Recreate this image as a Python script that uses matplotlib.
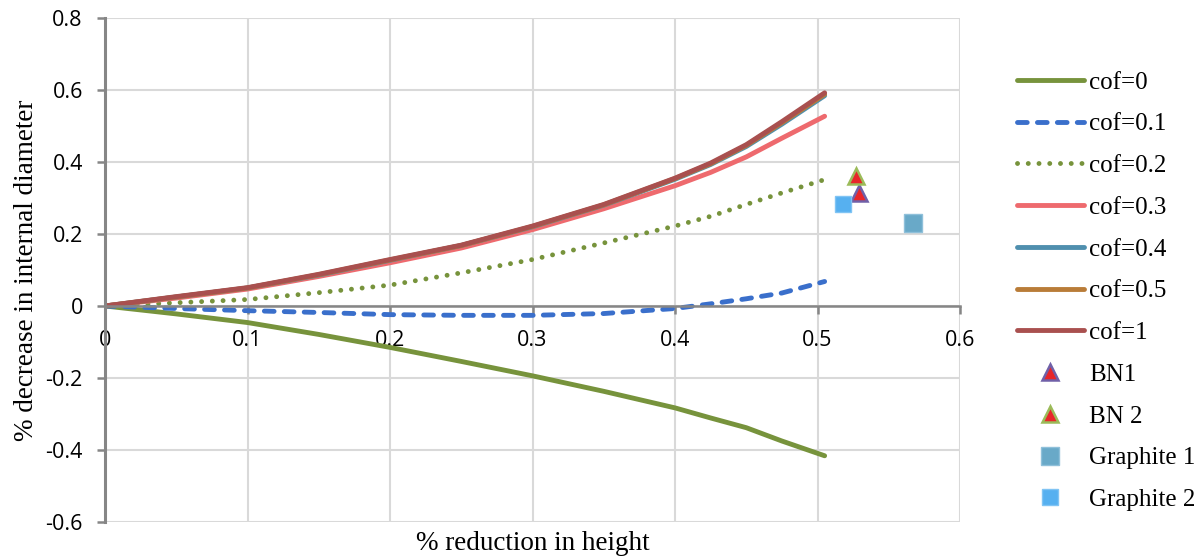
import matplotlib.pyplot as plt

# x positions (% reduction in height)
x_pts = [0.0, 0.05, 0.1, 0.15, 0.2, 0.25, 0.3, 0.35, 0.4, 0.425, 0.45, 0.475, 0.505]

# % decrease in internal diameter for each friction coefficient
cof_0 = [0.0, -0.022, -0.046, -0.079, -0.115, -0.154, -0.194, -0.237, -0.283, -0.311, -0.338, -0.375, -0.416]
cof_01 = [0.0, -0.007, -0.013, -0.018, -0.024, -0.026, -0.026, -0.021, -0.007, 0.006, 0.020, 0.036, 0.068]
cof_02 = [0.0, 0.009, 0.018, 0.037, 0.058, 0.092, 0.129, 0.175, 0.222, 0.249, 0.282, 0.314, 0.351]
cof_03 = [0.0, 0.022, 0.047, 0.082, 0.120, 0.161, 0.212, 0.270, 0.334, 0.371, 0.414, 0.466, 0.527]
cof_04 = [0.0, 0.025, 0.050, 0.086, 0.127, 0.168, 0.220, 0.280, 0.352, 0.393, 0.443, 0.505, 0.584]
cof_05 = [0.0, 0.025, 0.050, 0.087, 0.128, 0.168, 0.221, 0.281, 0.354, 0.395, 0.446, 0.509, 0.588]
cof_1 = [0.0, 0.026, 0.051, 0.088, 0.129, 0.169, 0.222, 0.282, 0.355, 0.397, 0.448, 0.512, 0.592]

# experimental points
bn1 = (0.529, 0.315)
bn2 = (0.527, 0.360)
graphite1 = (0.567, 0.230)
graphite2 = (0.518, 0.284)

x_ticks = [0, 0.1, 0.2, 0.3, 0.4, 0.5, 0.6]
x_tick_labels = ['0', '0.1', '0.2', '0.3', '0.4', '0.5', '0.6']
y_ticks = [-0.6, -0.4, -0.2, 0, 0.2, 0.4, 0.6, 0.8]
y_tick_labels = ['-0.6', '-0.4', '-0.2', '0', '0.2', '0.4', '0.6', '0.8']

fig = plt.figure(figsize=(12, 5.57), dpi=100)
ax = fig.add_axes([0.0875, 0.0628, 0.7125, 0.905])

lw = 3.5
common = dict(lw=lw, solid_capstyle='round', solid_joinstyle='round')
ax.plot(x_pts, cof_0, color='#77933C', label='cof=0', **common)
ax.plot(x_pts, cof_01, color='#3A6FCB', dashes=(2.0, 2.1), dash_capstyle='round', label='cof=0.1', **common)
ax.plot(x_pts, cof_02, color='#77933C', dashes=(0.01, 2.2), dash_capstyle='round', label='cof=0.2', **common)
ax.plot(x_pts, cof_03, color='#EE6A6E', label='cof=0.3', **common)
ax.plot(x_pts, cof_04, color='#4F8FAE', label='cof=0.4', **common)
ax.plot(x_pts, cof_05, color='#B97C38', label='cof=0.5', **common)
ax.plot(x_pts, cof_1, color='#A9504F', label='cof=1', **common)

ax.plot([bn1[0]], [bn1[1]], ls='none', marker='^', ms=12, mfc='#E8262A', mec='#7060A8', mew=1.8, label='BN1')
ax.plot([bn2[0]], [bn2[1]], ls='none', marker='^', ms=12, mfc='#E8262A', mec='#9BBB59', mew=1.8, label='BN 2')
ax.plot([graphite1[0]], [graphite1[1]], ls='none', marker='s', ms=13, mfc='#69A9C8', mec='#8FC0DA', mew=1, label='Graphite 1')
ax.plot([graphite2[0]], [graphite2[1]], ls='none', marker='s', ms=12, mfc='#56B0F0', mec='#80C4F4', mew=1, label='Graphite 2')

ax.set_xlim(0, 0.6)
ax.set_ylim(-0.6, 0.8)
ax.set_xticks(x_ticks)
ax.set_xticklabels(x_tick_labels)
ax.set_yticks(y_ticks)
ax.set_yticklabels(y_tick_labels)

ax.grid(True, color='#D9D9D9', lw=1.5)
ax.set_axisbelow(True)

# axis spines: left at x=0, horizontal axis crossing at y=0
ax.spines['bottom'].set_position(('data', 0))
ax.spines['bottom'].set_color('#868686')
ax.spines['bottom'].set_linewidth(1.8)
ax.spines['left'].set_color('#868686')
ax.spines['left'].set_linewidth(2.2)
ax.spines['top'].set_visible(False)
ax.spines['right'].set_visible(False)

ax.tick_params(axis='both', colors='#868686', width=1.8, length=6, direction='out',
               labelcolor='black', labelsize=15.5)
ax.tick_params(axis='x', pad=11)
ax.tick_params(axis='y', pad=10)
for lab in ax.get_xticklabels() + ax.get_yticklabels():
    lab.set_family('Open Sans')

ax.set_xlabel('% reduction in height', family='Liberation Serif', fontsize=19.5)
ax.set_ylabel('% decrease in internal diameter', family='Liberation Serif', fontsize=19.5)
ax.xaxis.set_label_coords(0.5, -0.017)
ax.yaxis.set_label_coords(-0.077, 0.5)

leg = ax.legend(loc='center left', bbox_to_anchor=(1.04, 0.458), frameon=False,
                prop={'family': 'Liberation Serif', 'size': 18},
                handlelength=2.7, labelspacing=0.77, handletextpad=0.2)

plt.savefig('out.png', dpi=100)
plt.close()
